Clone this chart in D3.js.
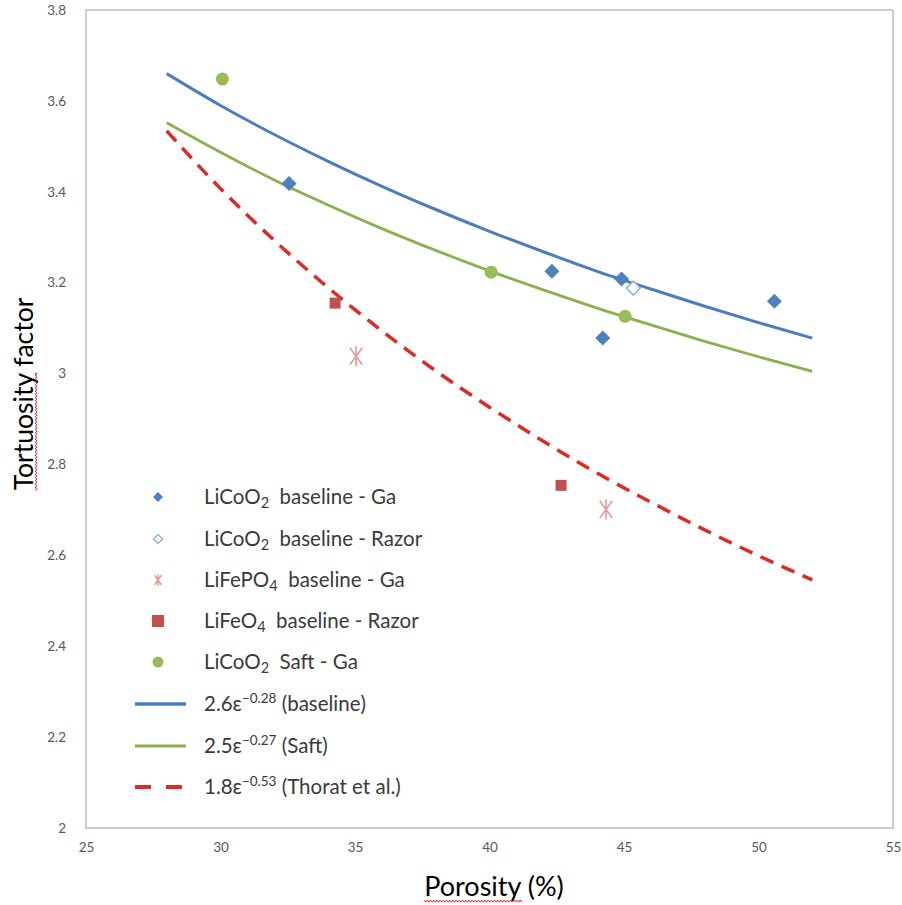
<!DOCTYPE html>
<html><head><meta charset="utf-8">
<script src="https://cdn.jsdelivr.net/npm/d3@7"></script>
<style>
html,body{margin:0;padding:0;background:#fff;}
svg{display:block;font-family:Lato,"Open Sans",sans-serif;}
</style></head>
<body><svg id="c" width="902" height="905"></svg>
<script>
// ---- data ----
const xTicks = [25, 30, 35, 40, 45, 50, 55];
const yTicks = [2, 2.2, 2.4, 2.6, 2.8, 3, 3.2, 3.4, 3.6, 3.8];
const yTickLabels = ["2", "2.2", "2.4", "2.6", "2.8", "3", "3.2", "3.4", "3.6", "3.8"];

const baselineGaX = [32.55, 42.32, 44.21, 44.91, 50.59];
const baselineGaY = [3.418, 3.225, 3.078, 3.208, 3.159];
const baselineRazorX = [45.35];
const baselineRazorY = [3.188];
const lfpGaX = [35.04, 44.33];
const lfpGaY = [3.038, 2.701];
const lfoRazorX = [34.26, 42.66];
const lfoRazorY = [3.155, 2.754];
const saftGaX = [30.07, 40.06, 45.04];
const saftGaY = [3.648, 3.223, 3.126];

const fitX = [28, 30, 32, 34, 36, 38, 40, 42, 44, 46, 48, 50, 52];
const fitBaseline = [3.660, 3.590, 3.526, 3.467, 3.412, 3.361, 3.313, 3.268, 3.225, 3.186, 3.148, 3.112, 3.078];
const fitSaft = [3.552, 3.487, 3.426, 3.371, 3.319, 3.271, 3.226, 3.184, 3.144, 3.107, 3.071, 3.037, 3.005];
const fitThorat = [3.534, 3.407, 3.293, 3.189, 3.094, 3.006, 2.926, 2.851, 2.781, 2.717, 2.656, 2.599, 2.546];

const legendLabels = [
  ["LiCoO", "2", "  baseline - Ga", "sub"],
  ["LiCoO", "2", "  baseline - Razor", "sub"],
  ["LiFePO", "4", "  baseline - Ga", "sub"],
  ["LiFeO", "4", "  baseline - Razor", "sub"],
  ["LiCoO", "2", "  Saft - Ga", "sub"],
  ["2.6\u03b5", "\u22120.28", " (baseline)", "sup"],
  ["2.5\u03b5", "\u22120.27", " (Saft)", "sup"],
  ["1.8\u03b5", "\u22120.53", " (Thorat et al.)", "sup"]
];

// ---- styles ----
const C = {
  blue: "#4F81BD", blueLine: "#4A7EBF", openBlue: "#95B3D7",
  star: "#E39A9A", sq: "#C0504D", green: "#9BBB59", greenLine: "#8CB04D",
  red: "#DC2A26", frame: "#BFBFBF", tick: "#595959", text: "#3a3a3a"
};

const svg = d3.select("#c");
const x = d3.scaleLinear().domain([25, 55]).range([86, 893]);
const y = d3.scaleLinear().domain([2, 3.8]).range([828, 10]);

// frame
svg.append("rect").attr("x", 86).attr("y", 10).attr("width", 893 - 86).attr("height", 828 - 10)
  .attr("fill", "none").attr("stroke", C.frame).attr("stroke-width", 1.5);

// axes (labels only)
const xAxis = d3.axisBottom(x).tickValues(xTicks).tickSize(0).tickPadding(14);
const gx = svg.append("g").attr("transform", "translate(0,828)").call(xAxis);
gx.select(".domain").remove();
gx.selectAll("text").attr("fill", C.tick).attr("font-size", 13.5).attr("font-family", "Lato").attr("dy", "0.71em");

const yAxis = d3.axisLeft(y).tickValues(yTicks).tickFormat((d, i) => yTickLabels[i]).tickSize(0).tickPadding(20);
const gy = svg.append("g").attr("transform", "translate(86,0)").call(yAxis);
gy.select(".domain").remove();
gy.selectAll("text").attr("fill", C.tick).attr("font-size", 13.5).attr("font-family", "Lato");

// fit lines
const line = d3.line().x(d => x(d[0])).y(d => y(d[1])).curve(d3.curveMonotoneX);
svg.append("path").datum(fitX.map((v, i) => [v, fitBaseline[i]])).attr("d", line)
  .attr("fill", "none").attr("stroke", C.blueLine).attr("stroke-width", 3);
svg.append("path").datum(fitX.map((v, i) => [v, fitSaft[i]])).attr("d", line)
  .attr("fill", "none").attr("stroke", C.greenLine).attr("stroke-width", 2.8);
svg.append("path").datum(fitX.map((v, i) => [v, fitThorat[i]])).attr("d", line)
  .attr("fill", "none").attr("stroke", C.red).attr("stroke-width", 3.5).attr("stroke-dasharray", "14,9");

// marker shapes
function diamond(s) { return `M0,${-s}L${s},0L0,${s}L${-s},0Z`; }
function star(r) {
  const a = r * 0.62, b = r * 0.85;
  return `M0,${-r}L0,${r}M${-a},${-b}L${a},${b}M${a},${-b}L${-a},${b}`;
}
function drawPts(xs, ys, fn) { xs.forEach((v, i) => fn(svg.append("g").attr("transform", `translate(${x(v)},${y(ys[i])})`))); }

const mk = {
  dFill: (g, s) => g.append("path").attr("d", diamond(s)).attr("fill", C.blue),
  dOpen: (g, s) => g.append("path").attr("d", diamond(s)).attr("fill", "#fff").attr("stroke", C.openBlue).attr("stroke-width", 1.5),
  star: (g, s) => g.append("path").attr("d", star(s)).attr("fill", "none").attr("stroke", C.star).attr("stroke-width", 1.6),
  sq: (g, s) => g.append("rect").attr("x", -s).attr("y", -s).attr("width", 2 * s).attr("height", 2 * s).attr("fill", C.sq),
  circ: (g, s) => g.append("circle").attr("r", s).attr("fill", C.green)
};

drawPts(saftGaX, saftGaY, g => mk.circ(g, 6.5));
drawPts(baselineRazorX, baselineRazorY, g => mk.dOpen(g, 7));
drawPts(baselineGaX, baselineGaY, g => mk.dFill(g, 7.5));
drawPts(lfoRazorX, lfoRazorY, g => mk.sq(g, 5.5));
drawPts(lfpGaX, lfpGaY, g => mk.star(g, 10));

// legend
const legY = [497, 539, 580, 621, 662, 704, 746, 787];
const legMarkers = [
  g => mk.dFill(g, 5), g => mk.dOpen(g, 4.5), g => mk.star(g, 5.5), g => mk.sq(g, 6), g => mk.circ(g, 5.5),
  g => g.append("line").attr("x1", -23).attr("x2", 28).attr("stroke", C.blueLine).attr("stroke-width", 3.5),
  g => g.append("line").attr("x1", -23).attr("x2", 28).attr("stroke", C.greenLine).attr("stroke-width", 3),
  g => g.append("line").attr("x1", -23).attr("x2", 28).attr("stroke", C.red).attr("stroke-width", 4).attr("stroke-dasharray", "16,15")
];
const legTextX = 204;
legendLabels.forEach((lab, i) => {
  const g = svg.append("g").attr("transform", `translate(158,${legY[i]})`);
  legMarkers[i](g);
  const t = svg.append("text").attr("x", legTextX).attr("y", legY[i] + 7).attr("fill", C.text)
    .attr("font-size", 20.5).attr("font-family", "Lato").style("white-space", "pre");
  t.append("tspan").text(lab[0]);
  if (lab[3] === "sub") {
    t.append("tspan").attr("font-size", 14.5).attr("dy", 4).text(lab[1]);
    t.append("tspan").attr("dy", -4).text(lab[2]);
  } else {
    t.append("tspan").attr("font-size", 13.5).attr("dy", -8).text(lab[1]);
    t.append("tspan").attr("dy", 8).text(lab[2]);
  }
  // align actual ink start with the legend text column
  const bb = t.node().getBBox();
  if (Math.abs(bb.x - legTextX) > 1) t.attr("x", legTextX - (bb.x - legTextX));
});

// axis titles
function wavy(x0, x1, amp, per) {
  let d = `M${x0},0`;
  for (let xx = x0; xx < x1; xx += per) d += `L${xx + per / 2},${amp}L${Math.min(xx + per, x1)},0`;
  return d;
}
const yCx = 394;
const yt = svg.append("text").attr("transform", `translate(33,${yCx}) rotate(-90)`).attr("text-anchor", "middle")
  .attr("font-size", 26.5).attr("font-family", "Lato").attr("fill", "#000").text("Tortuosity factor");
const ytn = yt.node();
const yl = ytn.getSubStringLength(0, 10), ytot = ytn.getComputedTextLength();
svg.append("path").attr("transform", `translate(35,${yCx}) rotate(-90)`)
  .attr("d", wavy(-ytot / 2, -ytot / 2 + yl, 2.2, 3.2)).attr("fill", "none").attr("stroke", "#E03030").attr("stroke-width", 1);

const xCx = 494;
const xt = svg.append("text").attr("x", xCx).attr("y", 896).attr("text-anchor", "middle")
  .attr("font-size", 27).attr("font-family", "Lato").attr("fill", "#000").text("Porosity (%)");
const xtn = xt.node();
const xl = xtn.getSubStringLength(0, 8), xtot = xtn.getComputedTextLength();
svg.append("path").attr("transform", "translate(0,900)")
  .attr("d", wavy(xCx - xtot / 2, xCx - xtot / 2 + xl, 2.2, 3.2)).attr("fill", "none").attr("stroke", "#E03030").attr("stroke-width", 1);
</script></body></html>
